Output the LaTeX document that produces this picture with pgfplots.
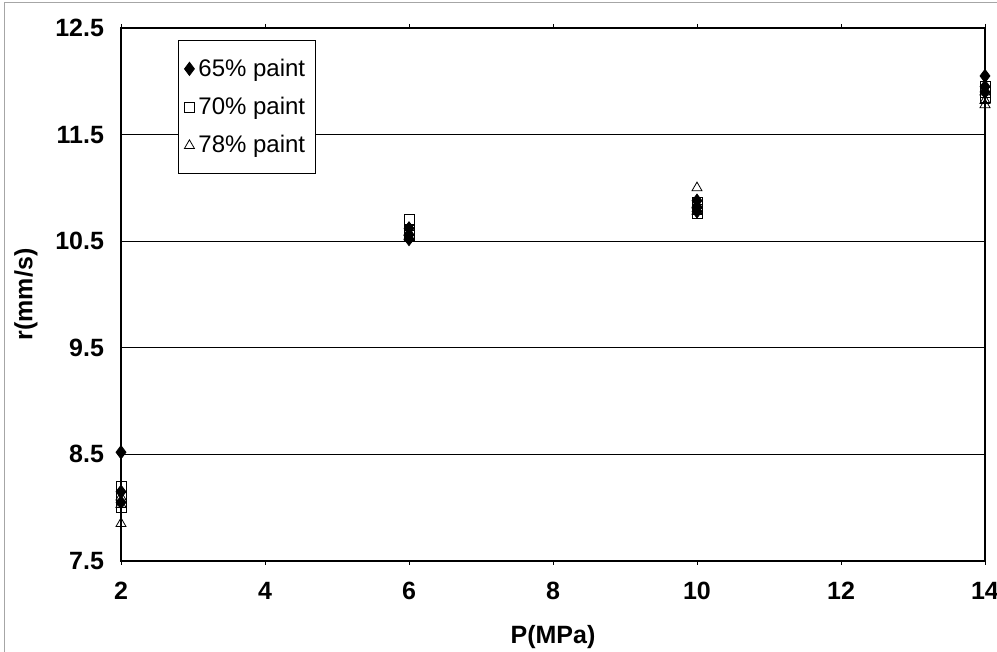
\documentclass[border=0pt]{standalone}
\usepackage{pgfplots}
\pgfplotsset{compat=1.18}
\usepackage{fontspec}
\setmainfont{Liberation Sans}
\begin{document}
\begin{tikzpicture}
\useasboundingbox (0,0) rectangle (498.5pt,326pt);
\clip (0,0) rectangle (498.5pt,326pt);
\draw[gray!70, line width=0.4pt] (2pt,-2pt) -- (2pt,325pt) -- (500pt,325pt);
\begin{axis}[
  at={(60.5pt,45.5pt)}, anchor=south west,
  scale only axis, width=432pt, height=266.5pt,
  xmin=2, xmax=14, ymin=7.5, ymax=12.5,
  xtick={2,4,...,14}, ytick={7.5,8.5,...,12.5},
  yticklabel style={xshift=-3pt, /pgf/number format/.cd, fixed, fixed zerofill, precision=1},
  /pgf/number format/assume math mode=true,
  ticklabel style={font=\bfseries\fontsize{12.5}{14}\selectfont},
  xticklabel style={yshift=-5pt},
  tick align=outside, tick style={black, line width=0.4pt}, major tick length=2pt,
  ytick style={draw=none},
  ymajorgrids, grid style={black, line width=0.4pt},
  axis line style={black, line width=0.8pt},
  xlabel={\bfseries\fontsize{12.5}{14}\selectfont P(MPa)},
  ylabel={\bfseries\fontsize{12.5}{14}\selectfont r(mm/s)},
  xlabel style={yshift=-6pt},
  ylabel style={yshift=2pt},
  legend style={at={(0.066,0.977)}, anchor=north west, draw=black, line width=0.4pt,
    font=\fontsize{12}{14}\selectfont, row sep=5pt, inner xsep=3pt, inner ysep=7pt},
  legend cell align=left,
  clip=false,
]
\addplot[only marks, mark=diamond*, mark size=3.3pt, black] coordinates {
 (2,8.52) (2,8.15) (2,8.05)
 (6,10.62) (6,10.56) (6,10.52)
 (10,10.88) (10,10.82) (10,10.78)
 (14,12.05) (14,11.95) (14,11.9)};
\addlegendentry{65\% paint}
\addplot[only marks, mark=square, mark size=2.5pt, black, mark options={fill=white}] coordinates {
 (2,8.2) (2,8.1) (2,8.0)
 (6,10.7) (6,10.6) (6,10.55)
 (10,10.86) (10,10.8) (10,10.76)
 (14,11.95) (14,11.9) (14,11.85)};
\addlegendentry{70\% paint}
\addplot[only marks, mark=triangle, mark size=2.9pt, black, mark options={fill=white}] coordinates {
 (2,8.1) (2,8.03) (2,7.85)
 (6,10.58) (6,10.54)
 (10,11.0) (10,10.84) (10,10.78)
 (14,11.9) (14,11.82) (14,11.78)};
\addlegendentry{78\% paint}
\end{axis}
\end{tikzpicture}
\end{document}
